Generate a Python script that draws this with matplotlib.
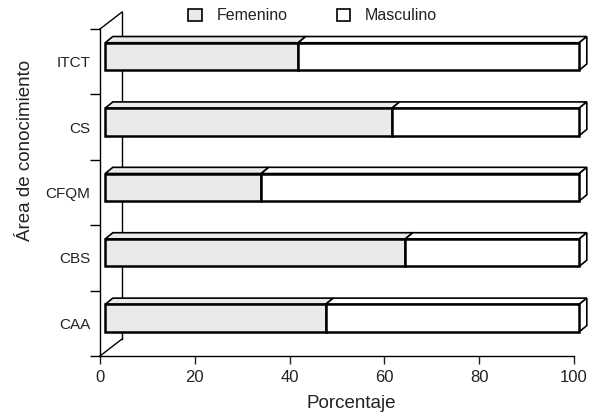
import matplotlib
matplotlib.use("Agg")
import matplotlib.pyplot as plt
from matplotlib.patches import Polygon, Patch

plt.rcParams['font.family'] = ['Liberation Sans', 'DejaVu Sans']

# data (percent), bottom to top
areas = ["CAA", "CBS", "CFQM", "CS", "ITCT"]
femenino = [46.5, 63.3, 32.9, 60.5, 40.7]
masculino = [100 - f for f in femenino]

fem_color = "#e9eaea"
masc_color = "white"

fig = plt.figure(figsize=(6.02, 4.16), dpi=100)
ax = fig.add_axes([100 / 602, 60 / 416, 474 / 602, 327 / 416])
ax.set_xlim(0, 100)
ax.set_ylim(-0.5, 4.5)

# pseudo 3d geometry
x0 = 1.1          # bar front face starts a bit right of the axis
h = 0.42          # front face height
yc = 0.08         # shift of front face centre within band
dx, dy = 1.6, 0.095   # bar depth
wdx, wdy = 4.65, 0.26  # wall depth

# back wall
ax.plot([0, wdx], [-0.5, -0.5 + wdy], color="black", lw=1, clip_on=False)
ax.plot([0, wdx], [4.5, 4.5 + wdy], color="black", lw=1, clip_on=False)
ax.plot([wdx, wdx], [-0.5 + wdy, 4.5 + wdy], color="black", lw=1, clip_on=False)

ypos = [i + yc for i in range(len(areas))]
b1 = ax.barh(ypos, femenino, height=h, left=x0, color=fem_color,
             edgecolor="black", lw=1.8, label="Femenino", zorder=3, clip_on=False)
lefts = [x0 + f for f in femenino]
b2 = ax.barh(ypos, masculino, height=h, left=lefts, color=masc_color,
             edgecolor="black", lw=1.8, label="Masculino", zorder=3, clip_on=False)

for y, f, m in zip(ypos, femenino, masculino):
    top = y + h / 2
    bot = y - h / 2
    segs = [(x0, x0 + f, fem_color), (x0 + f, x0 + f + m, masc_color)]
    for a, b, c in segs:
        ax.add_patch(Polygon([(a, top), (b, top), (b + dx, top + dy), (a + dx, top + dy)],
                             closed=True, facecolor=c, edgecolor="black", lw=1.2,
                             zorder=2, clip_on=False))
    end = x0 + f + m
    ax.add_patch(Polygon([(end, bot), (end, top), (end + dx, top + dy), (end + dx, bot + dy)],
                         closed=True, facecolor=masc_color, edgecolor="black", lw=1.2,
                         zorder=2, clip_on=False))

# axes styling
for s in ["top", "right"]:
    ax.spines[s].set_visible(False)
ax.spines["left"].set_linewidth(1)
ax.spines["bottom"].set_linewidth(1)

ax.set_xticks([0, 20, 40, 60, 80, 100])
ax.tick_params(axis="x", length=6, width=1, labelsize=12, pad=4, colors="#222222")
ax.set_yticks([-0.5, 0.5, 1.5, 2.5, 3.5, 4.5])
ax.set_yticklabels([])
ax.tick_params(axis="y", length=7, width=1)
ax.set_yticks(range(len(areas)), minor=True)
ax.set_yticklabels(areas, minor=True)
ax.tick_params(axis="y", which="minor", length=0, labelsize=11, pad=7, colors="#222222")

ax.set_xlabel("Porcentaje", fontsize=13.5, color="#222222")
ax.xaxis.set_label_coords(0.53, -0.118)
ax.set_ylabel("Área de conocimiento", fontsize=13.5, color="#222222")
ax.yaxis.set_label_coords(-0.14, 0.63)

handles = [Patch(facecolor=fem_color, edgecolor="black", lw=1.2, label="Femenino"),
           Patch(facecolor=masc_color, edgecolor="black", lw=1.2, label="Masculino")]
fig.legend(handles=handles, ncol=2, frameon=False, fontsize=11.5,
           loc="center left", bbox_to_anchor=(174 / 602, 1 - 16 / 416),
           handlelength=0.85, handleheight=0.85, handletextpad=0.9, columnspacing=3.1,
           labelcolor="#222222")

fig.savefig("out.png", dpi=100)
